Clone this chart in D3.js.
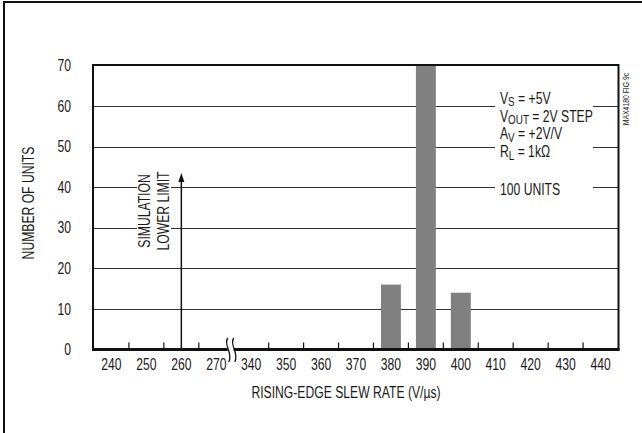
<!DOCTYPE html>
<html>
<head>
<meta charset="utf-8">
<script src="https://cdn.jsdelivr.net/npm/d3@7/dist/d3.min.js"></script>
<style>
  html, body { margin: 0; padding: 0; background: #fff; }
  svg { display: block; }
  text { font-family: "Liberation Sans", Arial, sans-serif; fill: #1a1a1a; }
</style>
</head>
<body>
<svg id="chart" width="642" height="433"></svg>
<script>
// ---- Data ----
const categories = ["240","250","260","270","340","350","360","370","380","390","400","410","420","430","440"];
const units = [0, 0, 0, 0, 0, 0, 0, 0, 16, 70, 14, 0, 0, 0, 0];
const yTicks = [0, 10, 20, 30, 40, 50, 60, 70];
const breakAfter = "270";
const lowerLimit = "260";
const lowerLimitTop = 43.5;
const legendLines = [
  ["V", "S", " = +5V"],
  ["V", "OUT", " = 2V STEP"],
  ["A", "V", " = +2V/V"],
  ["R", "L", " = 1k\u03A9"]
];
const unitsNote = "100 UNITS";

(function () {
// ---- Layout ----
const svg = d3.select("#chart");
const pLeft = 94, pRight = 618, pTop = 65.5, pBottom = 349.5;
const FS = "16px";

const x = d3.scaleBand().domain(categories).range([pLeft, pRight])
  .paddingInner(0.43).paddingOuter(0.215);
const y = d3.scaleLinear().domain([0, 70]).range([pBottom, pTop]);

// outer border (top and left visible)
svg.append("line").attr("x1", 3).attr("x2", 642).attr("y1", 2).attr("y2", 2)
  .attr("stroke", "#111").attr("stroke-width", 2);
svg.append("line").attr("x1", 4).attr("x2", 4).attr("y1", 1).attr("y2", 433)
  .attr("stroke", "#111").attr("stroke-width", 2);

// gridlines
svg.append("g").selectAll("line").data(yTicks.filter(d => d > 0 && d < 70)).join("line")
  .attr("x1", pLeft).attr("x2", pRight)
  .attr("y1", d => Math.round(y(d)) + 0.5).attr("y2", d => Math.round(y(d)) + 0.5)
  .attr("stroke", "#333").attr("stroke-width", 1);

// bars
svg.append("g").selectAll("rect").data(categories.map((c, i) => ({c, v: units[i]})).filter(d => d.v > 0)).join("rect")
  .attr("x", d => x(d.c))
  .attr("width", x.bandwidth())
  .attr("y", d => y(d.v))
  .attr("height", d => y(0) - y(d.v))
  .attr("fill", "#808080");

// legend white background and text
svg.append("rect").attr("x", 495).attr("y", 88).attr("width", 98).attr("height", 110).attr("fill", "#fff");
const lg = svg.append("g");
legendLines.forEach((l, i) => {
  const t = lg.append("text").attr("x", 500).attr("y", 98 + i * 17.8).attr("dy", "0.36em")
    .style("font-size", FS);
  t.append("tspan").text(l[0]);
  t.append("tspan").text(l[1]).style("font-size", "13px").attr("dy", "2.5");
  t.append("tspan").text(l[2]).attr("dy", "-2.5");
});
lg.append("text").attr("x", 500).attr("y", 189).attr("dy", "0.36em").style("font-size", FS).text(unitsNote);

// simulation lower limit arrow
const ax = x(lowerLimit) + x.bandwidth() / 2;
svg.append("rect").attr("x", 137).attr("y", 172).attr("width", 34).attr("height", 80).attr("fill", "#fff");
svg.append("line").attr("x1", ax).attr("x2", ax).attr("y1", y(0)).attr("y2", y(lowerLimitTop) + 6)
  .attr("stroke", "#111").attr("stroke-width", 1.5);
svg.append("path")
  .attr("d", `M${ax},${y(lowerLimitTop)} L${ax - 3},${y(lowerLimitTop) + 9} L${ax + 3},${y(lowerLimitTop) + 9} Z`)
  .attr("fill", "#111");
const st = svg.append("text").attr("transform", "translate(144,211) rotate(-90)")
  .attr("text-anchor", "middle").style("font-size", FS);
st.append("tspan").attr("x", 0).attr("dy", "0.36em").text("SIMULATION");
st.append("tspan").attr("x", 0).attr("dy", "1.18em").text("LOWER LIMIT");

// frame
svg.append("rect").attr("x", 93).attr("y", 65).attr("width", 525.5).attr("height", 284.5)
  .attr("fill", "none").attr("stroke", "#111").attr("stroke-width", 2);
svg.append("line").attr("x1", 92).attr("x2", 619.5).attr("y1", 349.5).attr("y2", 349.5)
  .attr("stroke", "#111").attr("stroke-width", 3);

// x ticks at band boundaries (up from axis)
const step = x.step();
const bIdx = categories.indexOf(breakAfter) + 1;
const boundaries = d3.range(1, categories.length).filter(i => i !== bIdx);
svg.append("g").selectAll("line").data(boundaries).join("line")
  .attr("x1", i => pLeft + i * step).attr("x2", i => pLeft + i * step)
  .attr("y1", pBottom).attr("y2", pBottom - 7)
  .attr("stroke", "#111").attr("stroke-width", 1.2);

// axis break symbol
const bx = pLeft + bIdx * step - 6;
svg.append("rect").attr("x", bx).attr("y", 346).attr("width", 6).attr("height", 7).attr("fill", "#fff");
[bx - 1, bx + 5].forEach(px => {
  svg.append("path")
    .attr("d", `M${px + 1},338 C${px - 4},345 ${px + 7},353 ${px + 2},362`)
    .attr("fill", "none").attr("stroke", "#111").attr("stroke-width", 1.3);
});

// x axis labels
const xAxis = d3.axisBottom(x).tickSize(0).tickPadding(8);
const gx = svg.append("g").attr("transform", `translate(0,${pBottom + 1})`).call(xAxis);
gx.select(".domain").remove();
gx.selectAll("text").style("font-size", FS).style("font-family", null).attr("fill", "#1a1a1a");

// y axis labels
const yAxis = d3.axisLeft(y).tickValues(yTicks).tickSize(0).tickPadding(23);
const gy = svg.append("g").attr("transform", `translate(${pLeft},0)`).call(yAxis);
gy.select(".domain").remove();
gy.selectAll("text").style("font-size", FS).style("font-family", null).attr("fill", "#1a1a1a");

// axis titles
svg.append("text").attr("x", 346).attr("y", 392).attr("dy", "0.36em").attr("text-anchor", "middle")
  .style("font-size", FS).text("RISING-EDGE SLEW RATE (V/\u00B5s)");
svg.append("text").attr("transform", "translate(28,203) rotate(-90)").attr("dy", "0.36em")
  .attr("text-anchor", "middle").style("font-size", FS).text("NUMBER OF UNITS");

// figure id
svg.append("text").attr("transform", "translate(626,99) rotate(-90)").attr("dy", "0.36em")
  .attr("text-anchor", "middle").style("font-size", "9px").attr("fill", "#444").text("MAX4180 FIG 9c");

// condense all text horizontally (narrow grotesque look), about each anchor
svg.selectAll("text").each(function () {
  const el = d3.select(this);
  const x0 = +el.attr("x") || 0;
  const tr = el.attr("transform") || "";
  el.attr("transform", `${tr} translate(${x0},0) scale(0.76,1) translate(${-x0},0)`);
});
})();
</script>
</body>
</html>
